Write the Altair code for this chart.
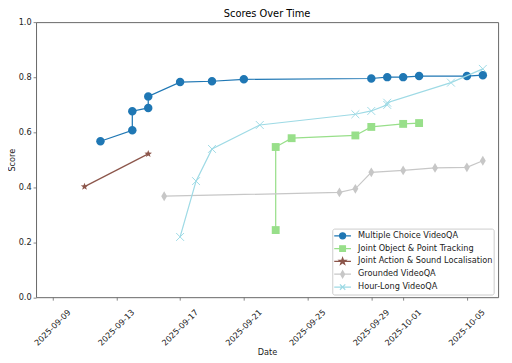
import math
import altair as alt
import pandas as pd

# ---------------- data ----------------
series_names = [
    "Multiple Choice VideoQA",
    "Joint Object & Point Tracking",
    "Joint Action & Sound Localisation",
    "Grounded VideoQA",
    "Hour-Long VideoQA",
]
series_colors = ["#1f77b4", "#98df8a", "#8c564b", "#c7c7c7", "#9edae5"]

mc_dates = ["2025-09-12", "2025-09-14", "2025-09-14", "2025-09-15", "2025-09-15",
            "2025-09-17", "2025-09-19", "2025-09-21", "2025-09-29", "2025-09-30",
            "2025-10-01", "2025-10-02", "2025-10-05", "2025-10-06"]
mc_scores = [0.567, 0.607, 0.676, 0.688, 0.730, 0.782, 0.785, 0.792, 0.795, 0.800,
             0.800, 0.804, 0.804, 0.807]

jopt_dates = ["2025-09-23", "2025-09-23", "2025-09-24", "2025-09-28", "2025-09-29",
              "2025-10-01", "2025-10-02"]
jopt_scores = [0.244, 0.546, 0.578, 0.588, 0.619, 0.630, 0.633]

jasl_dates = ["2025-09-11", "2025-09-15"]
jasl_scores = [0.402, 0.521]

gv_dates = ["2025-09-16", "2025-09-27", "2025-09-28", "2025-09-29", "2025-10-01",
            "2025-10-03", "2025-10-05", "2025-10-06"]
gv_scores = [0.367, 0.381, 0.394, 0.454, 0.461, 0.470, 0.472, 0.496]

hl_dates = ["2025-09-17", "2025-09-18", "2025-09-19", "2025-09-22", "2025-09-28",
            "2025-09-29", "2025-09-30", "2025-09-30", "2025-10-04", "2025-10-06"]
hl_scores = [0.219, 0.422, 0.539, 0.626, 0.665, 0.677, 0.699, 0.707, 0.780, 0.830]

tick_dates = [(9, 9), (9, 13), (9, 17), (9, 21), (9, 25), (9, 29), (10, 1), (10, 5)]

all_dates = [mc_dates, jopt_dates, jasl_dates, gv_dates, hl_dates]
all_scores = [mc_scores, jopt_scores, jasl_scores, gv_scores, hl_scores]

rows = []
for name, ds, ss in zip(series_names, all_dates, all_scores):
    for i, (d, s) in enumerate(zip(ds, ss)):
        rows.append({"series": name, "date": d, "score": s, "idx": i})
df = pd.DataFrame(rows)

# ---------------- marker paths ----------------
def circle(r):
    return f"M{r},0A{r},{r},0,1,1,{-r},0A{r},{r},0,1,1,{r},0Z"

def square(s):
    return f"M{-s},{-s}H{s}V{s}H{-s}Z"

def star(R, r):
    pts = []
    for i in range(10):
        a = -math.pi / 2 + i * math.pi / 5
        rad = R if i % 2 == 0 else r
        pts.append(f"{rad*math.cos(a):.3f},{rad*math.sin(a):.3f}")
    return "M" + "L".join(pts) + "Z"

def diamond(w, h):
    return f"M0,{-h}L{w},0L0,{h}L{-w},0Z"

def cross(c):
    return f"M{-c},{-c}L{c},{c}M{-c},{c}L{c},{-c}"

plot_shapes = [circle(0.86), square(0.8), star(0.8, 0.33), diamond(0.6, 1.0), cross(0.8)]
leg_shapes = [circle(0.36), square(0.34), star(0.42, 0.17), diamond(0.24, 0.42), cross(0.32)]
leg_paths = ["M-1,0H1" + p for p in leg_shapes]

shape_expr = ""
for n, p in zip(series_names[:-1], leg_paths[:-1]):
    shape_expr += f"datum.value === '{n}' ? '{p}' : "
shape_expr += f"'{leg_paths[-1]}'"

FONT = "DejaVu Sans"

legend = alt.Legend(
    title=None,
    orient="none",
    legendX=301,
    legendY=209.8,
    direction="vertical",
    fillColor="rgba(255,255,255,0.8)",
    strokeColor="#cccccc",
    cornerRadius=2,
    padding=1,
    rowPadding=0,
    clipHeight=12.75,
    labelOffset=6.2,
    labelFont=FONT,
    labelFontSize=8.3,
    labelColor="#222222",
    labelLimit=300,
    symbolSize=289,
    symbolStrokeWidth=1.25,
    symbolOpacity=1,
    symbolType=alt.ExprRef(expr=shape_expr),
    symbolStrokeColor=alt.ExprRef(expr="scale('color', datum.value)"),
)

color = alt.Color(
    "series:N",
    scale=alt.Scale(domain=series_names, range=series_colors),
    legend=legend,
)

x_enc = alt.X(
    "date:T",
    title="Date",
    scale=alt.Scale(
        type="utc",
        domain=[
            alt.DateTime(year=2025, month=9, date=7, hours=23, utc=True),
            alt.DateTime(year=2025, month=10, date=6, hours=23, utc=True),
        ],
    ),
    axis=alt.Axis(
        values=[alt.DateTime(year=2025, month=m, date=d, utc=True) for m, d in tick_dates],
        format="%Y-%m-%d",
        labelAngle=-45,
        labelAlign="center",
        labelBaseline="middle",
        labelPadding=28,
        labelOverlap=False,
        labelFlush=False,
        labelBound=False,
        titleBaseline="middle",
        titleY=56,
    ),
)
y_enc = alt.Y(
    "score:Q",
    title="Score",
    scale=alt.Scale(domain=[0, 1], nice=False, zero=False),
    axis=alt.Axis(
        values=[0, 0.2, 0.4, 0.6, 0.8, 1.0],
        format=".1f",
        labelPadding=2,
        titleX=-24,
        titleBaseline="middle",
    ),
)

base = alt.Chart(df)

# invisible layer that only carries the legend
legend_layer = base.mark_point(filled=True, opacity=0, size=289).encode(
    x=x_enc, y=y_enc, color=color
)

layers = [legend_layer]
for i, name in enumerate(series_names):
    sub = base.transform_filter(alt.datum.series == name)
    c = series_colors[i]
    line = sub.mark_line(strokeWidth=1.25, color=c).encode(
        x=x_enc, y=y_enc, order=alt.Order("idx:Q")
    )
    if i == 4:
        pts = sub.mark_point(shape=plot_shapes[i], filled=False, size=100,
                             opacity=1, strokeWidth=1, color=c)
    else:
        pts = sub.mark_point(shape=plot_shapes[i], filled=True, size=100,
                             opacity=1, color=c)
    pts = pts.encode(x=x_enc, y=y_enc)
    layers += [line, pts]

chart = alt.layer(*layers).properties(
    width=469.5,
    height=279.5,
    title=alt.TitleParams("Scores Over Time", font=FONT, fontSize=10,
                          fontWeight="normal", color="#000000",
                          anchor="middle", baseline="alphabetic", offset=4,
                          frame="group", dy=13.5),
    autosize=alt.AutoSizeParams(type="none"),
    padding={"left": 28.5, "top": 11.5, "right": 6, "bottom": 62},
).configure_view(
    stroke="#666666", strokeWidth=1
).configure_axis(
    grid=False,
    domain=False,
    tickColor="#666666",
    tickSize=3,
    tickWidth=0.8,
    labelFont=FONT,
    labelFontSize=8.3,
    labelColor="#222222",
    titleFont=FONT,
    titleFontSize=8.3,
    titleFontWeight="normal",
    titleColor="#222222",
)

chart.save("out.html", embed_options={"renderer": "svg", "actions": False})
